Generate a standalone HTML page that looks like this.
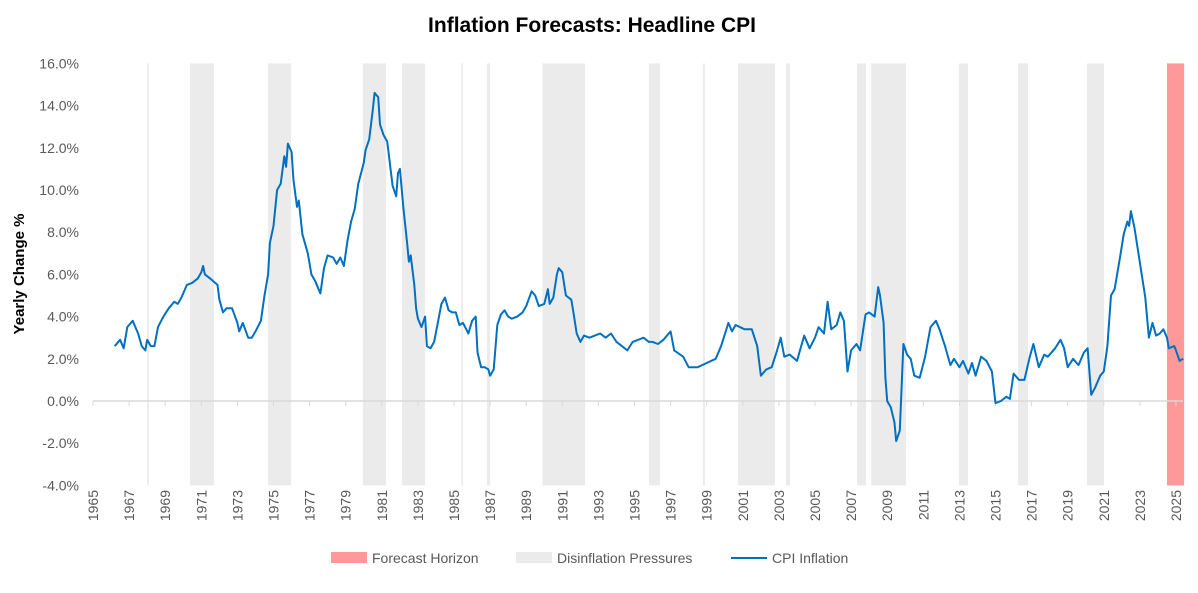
<!DOCTYPE html>
<html><head><meta charset="utf-8"><style>
body{margin:0;background:#fff;font-family:"Liberation Sans",sans-serif}
svg text{font-family:"Liberation Sans",sans-serif}
</style></head><body>
<svg width="1198" height="588" id="chart">
<text x="592" y="32" text-anchor="middle" font-size="21" font-weight="bold" fill="#000">Inflation Forecasts: Headline CPI</text>
<text transform="translate(24,274) rotate(-90)" text-anchor="middle" font-size="15" font-weight="bold" fill="#000">Yearly Change %</text>
<g id="bands"></g>
<g id="grid"></g>
<path id="line" fill="none" stroke="#0070C0" stroke-width="2" stroke-linejoin="round"/>
<g>
<rect x="331" y="552" width="36" height="11" fill="#FF9999"/>
<text x="372" y="563" font-size="14" fill="#595959">Forecast Horizon</text>
<rect x="516" y="552" width="36" height="11" fill="#EBEBEB"/>
<text x="557" y="563" font-size="14" fill="#595959">Disinflation Pressures</text>
<line x1="731" y1="558" x2="767" y2="558" stroke="#0070C0" stroke-width="2"/>
<text x="772" y="563" font-size="14" fill="#595959">CPI Inflation</text>
</g>
</svg>
<script>
const years=[1966.2,1966.5,1966.7,1966.9,1967.0,1967.2,1967.5,1967.7,1967.9,1968.0,1968.2,1968.4,1968.6,1968.9,1969.2,1969.5,1969.7,1969.9,1970.2,1970.5,1970.8,1971.0,1971.1,1971.2,1971.5,1971.9,1972.0,1972.2,1972.4,1972.7,1973.0,1973.1,1973.3,1973.6,1973.8,1974.0,1974.3,1974.5,1974.7,1974.8,1975.0,1975.2,1975.4,1975.6,1975.7,1975.8,1976.0,1976.1,1976.3,1976.4,1976.6,1976.9,1977.1,1977.3,1977.5,1977.6,1977.8,1978.0,1978.3,1978.5,1978.7,1978.9,1979.1,1979.3,1979.5,1979.7,1980.0,1980.1,1980.3,1980.5,1980.6,1980.8,1980.9,1981.1,1981.3,1981.5,1981.6,1981.8,1981.9,1982.0,1982.2,1982.4,1982.5,1982.6,1982.8,1982.9,1983.0,1983.2,1983.4,1983.5,1983.7,1983.9,1984.1,1984.3,1984.5,1984.7,1984.9,1985.1,1985.3,1985.5,1985.8,1986.0,1986.2,1986.3,1986.5,1986.7,1986.9,1987.0,1987.2,1987.4,1987.6,1987.8,1988.0,1988.2,1988.5,1988.8,1989.0,1989.3,1989.5,1989.7,1990.0,1990.2,1990.3,1990.5,1990.7,1990.8,1991.0,1991.2,1991.5,1991.6,1991.8,1992.0,1992.2,1992.5,1992.8,1993.1,1993.4,1993.7,1994.0,1994.3,1994.6,1994.9,1995.2,1995.5,1995.8,1996.0,1996.3,1996.6,1997.0,1997.2,1997.7,1998.0,1998.5,1999.0,1999.5,1999.8,2000.2,2000.4,2000.6,2001.1,2001.5,2001.8,2002.0,2002.3,2002.6,2002.9,2003.1,2003.3,2003.6,2004.0,2004.4,2004.7,2005.0,2005.2,2005.5,2005.7,2005.9,2006.2,2006.4,2006.6,2006.8,2007.0,2007.3,2007.5,2007.8,2008.0,2008.3,2008.5,2008.6,2008.8,2008.9,2009.0,2009.2,2009.4,2009.5,2009.7,2009.9,2010.1,2010.3,2010.5,2010.8,2011.1,2011.4,2011.7,2011.9,2012.2,2012.5,2012.7,2013.0,2013.2,2013.5,2013.7,2013.9,2014.2,2014.5,2014.8,2015.0,2015.3,2015.6,2015.8,2016.0,2016.3,2016.6,2016.9,2017.1,2017.4,2017.7,2017.9,2018.3,2018.6,2018.8,2019.0,2019.3,2019.6,2019.9,2020.1,2020.3,2020.5,2020.8,2021.0,2021.2,2021.4,2021.6,2021.9,2022.1,2022.3,2022.4,2022.5,2022.7,2022.9,2023.1,2023.3,2023.5,2023.7,2023.9,2024.1,2024.3,2024.5,2024.6,2024.9,2025.0,2025.2,2025.4];
const cpi=[2.6,2.9,2.5,3.5,3.6,3.8,3.2,2.6,2.4,2.9,2.6,2.6,3.5,4.0,4.4,4.7,4.6,4.9,5.5,5.6,5.8,6.1,6.4,6.0,5.8,5.5,4.8,4.2,4.4,4.4,3.7,3.3,3.7,3.0,3.0,3.3,3.8,5.0,6.0,7.5,8.3,10.0,10.3,11.6,11.1,12.2,11.8,10.5,9.2,9.5,7.9,7.0,6.0,5.7,5.3,5.1,6.3,6.9,6.8,6.5,6.8,6.4,7.6,8.5,9.1,10.3,11.3,11.9,12.4,13.8,14.6,14.4,13.1,12.6,12.3,10.9,10.2,9.7,10.8,11.0,9.1,7.5,6.6,6.9,5.5,4.4,3.9,3.5,4.0,2.6,2.5,2.8,3.7,4.6,4.9,4.3,4.2,4.2,3.6,3.7,3.2,3.8,4.0,2.3,1.6,1.6,1.5,1.2,1.5,3.6,4.1,4.3,4.0,3.9,4.0,4.2,4.5,5.2,5.0,4.5,4.6,5.3,4.6,4.9,6.0,6.3,6.1,5.0,4.8,4.3,3.2,2.8,3.1,3.0,3.1,3.2,3.0,3.2,2.8,2.6,2.4,2.8,2.9,3.0,2.8,2.8,2.7,2.9,3.3,2.4,2.1,1.6,1.6,1.8,2.0,2.6,3.7,3.3,3.6,3.4,3.4,2.6,1.2,1.5,1.6,2.4,3.0,2.1,2.2,1.9,3.1,2.5,3.0,3.5,3.2,4.7,3.4,3.6,4.2,3.8,1.4,2.4,2.7,2.4,4.1,4.2,4.0,5.4,5.0,3.7,1.1,0.0,-0.3,-1.0,-1.9,-1.4,2.7,2.2,2.0,1.2,1.1,2.1,3.5,3.8,3.4,2.6,1.7,2.0,1.6,1.9,1.3,1.8,1.2,2.1,1.9,1.4,-0.1,0.0,0.2,0.1,1.3,1.0,1.0,2.1,2.7,1.6,2.2,2.1,2.5,2.9,2.5,1.6,2.0,1.7,2.3,2.5,0.3,0.6,1.2,1.4,2.6,5.0,5.3,6.8,7.9,8.5,8.3,9.0,8.2,7.1,6.0,4.9,3.0,3.7,3.1,3.2,3.4,3.0,2.5,2.6,2.4,1.9,2.0];
const bandStart=[1968.0,1970.37,1974.7,1979.95,1982.12,1985.4,1986.83,1989.9,1995.8,1998.8,2000.73,2003.39,2007.33,2008.11,2012.98,2013.22,2016.25,2020.07];
const bandEnd=[1968.1,1971.7,1975.97,1981.23,1983.39,1985.5,1987.0,1992.26,1996.41,1998.9,2002.78,2003.61,2007.83,2010.04,2013.48,2013.3,2016.8,2021.01];
const forecastStart=2024.5, forecastEnd=2025.45;
const yTicks=[-4,-2,0,2,4,6,8,10,12,14,16];
const xTicks=[1965,1967,1969,1971,1973,1975,1977,1979,1981,1983,1985,1987,1989,1991,1993,1995,1997,1999,2001,2003,2005,2007,2009,2011,2013,2015,2017,2019,2021,2023,2025];
const X=y=>93+(y-1965)*18.05, Y=v=>401-v*21.1;
const NS='http://www.w3.org/2000/svg';
const bands=document.getElementById('bands'), grid=document.getElementById('grid');
function mk(tag,attrs,parent){const e=document.createElementNS(NS,tag);for(const k in attrs)e.setAttribute(k,attrs[k]);parent.appendChild(e);return e;}
bandStart.forEach((s,i)=>{
 const r=mk('rect',{x:X(s),y:Y(16),width:Math.max(1.5,X(bandEnd[i])-X(s)),height:Y(-4)-Y(16),fill:'#EBEBEB'},bands);
 
 
});
const fr=mk('rect',{x:X(forecastStart),y:Y(16),width:X(forecastEnd)-X(forecastStart),height:Y(-4)-Y(16),fill:'#FF9999'},bands);


const ax=mk('line',{x1:93,x2:1183,y1:Y(0),y2:Y(0),stroke:'#D9D9D9','stroke-width':1.5},grid);


yTicks.forEach(v=>{
 const t=mk('text',{x:79,y:Y(v)+5,'text-anchor':'end','font-size':14,fill:'#595959'},grid);
 t.textContent=v.toFixed(1)+'%';
 
 
});
xTicks.forEach(yr=>{
 const l=mk('line',{x1:X(yr),x2:X(yr),y1:Y(0),y2:Y(0)+5,stroke:'#D9D9D9'},grid);
 
 
 const t=mk('text',{transform:`translate(${X(yr)+5},490) rotate(-90)`,'text-anchor':'end','font-size':14,fill:'#595959'},grid);
 t.textContent=yr;
 
 
});
document.getElementById('line').setAttribute('d',years.map((y,i)=>(i?'L':'M')+X(y).toFixed(1)+','+Y(cpi[i]).toFixed(1)).join(''));
</script>
</body></html>
